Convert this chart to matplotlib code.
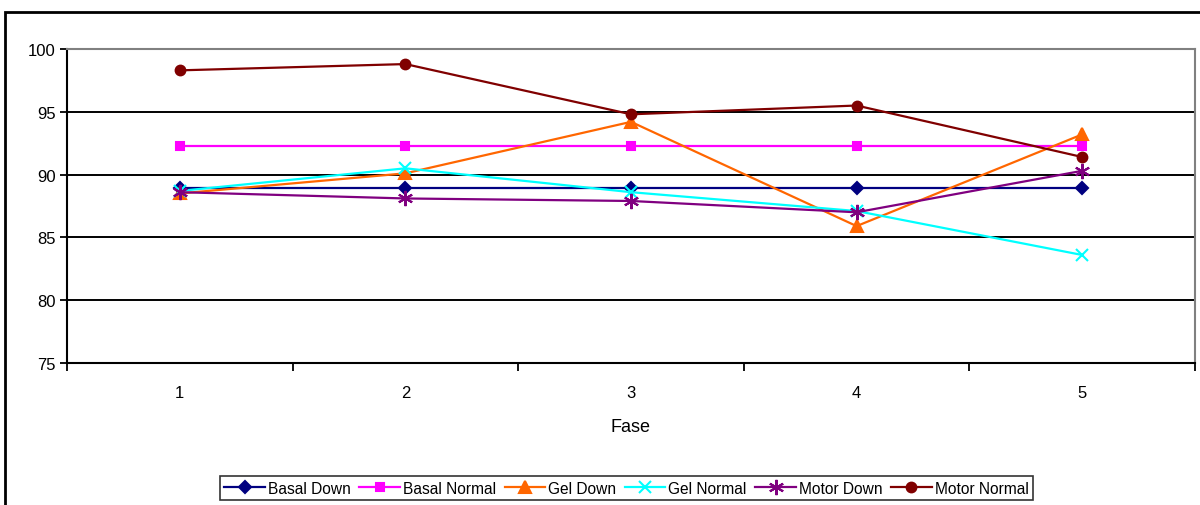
import matplotlib
matplotlib.use('Agg')
import matplotlib.pyplot as plt
from matplotlib.patches import Rectangle

plt.rcParams['font.family'] = ['Liberation Sans', 'DejaVu Sans']

fase = [1, 2, 3, 4, 5]
basal_down = [88.9, 88.9, 88.9, 88.9, 88.9]
basal_normal = [92.3, 92.3, 92.3, 92.3, 92.3]
gel_down = [88.5, 90.1, 94.2, 85.9, 93.2]
gel_normal = [88.7, 90.5, 88.6, 87.1, 83.6]
motor_down = [88.6, 88.1, 87.9, 87.0, 90.3]
motor_normal = [98.3, 98.8, 94.8, 95.5, 91.4]

series = [
    ('Basal Down', basal_down, '#000080', 'D', 6),
    ('Basal Normal', basal_normal, '#FF00FF', 's', 6),
    ('Gel Down', gel_down, '#FF6600', '^', 8),
    ('Gel Normal', gel_normal, '#00FFFF', 'x', 8),
    ('Motor Down', motor_down, '#800080', (6, 2, 0), 11),
    ('Motor Normal', motor_normal, '#800000', 'o', 7),
]

fig = plt.figure(figsize=(12, 5.06), dpi=100)
ax = fig.add_axes([67/1200, 1 - 364/506, (1195-67)/1200, (364-50)/506])

for name, vals, col, mk, ms in series:
    ax.plot(fase, vals, color=col, marker=mk, markersize=ms, lw=1.6,
            markeredgewidth=1.5, label=name, zorder=3)

ax.set_xlim(0.5, 5.5)
ax.set_ylim(75, 100)
ax.set_yticks([75, 80, 85, 90, 95, 100])
ax.yaxis.grid(True, color='black', lw=1.4)
ax.set_axisbelow(True)

ax.set_xticks([0.5, 1.5, 2.5, 3.5, 4.5, 5.5])
ax.set_xticklabels([])
ax.set_xticks(fase, minor=True)
ax.set_xticklabels([str(f) for f in fase], minor=True)
ax.tick_params(axis='x', which='major', length=6, width=1.3, direction='out')
ax.tick_params(axis='x', which='minor', length=0, pad=16, labelsize=12)
ax.tick_params(axis='y', length=5, width=1.3, pad=3, labelsize=12)

for s in ['left', 'bottom']:
    ax.spines[s].set_linewidth(1.5)
    ax.spines[s].set_color('black')
for s in ['top', 'right']:
    ax.spines[s].set_linewidth(1.5)
    ax.spines[s].set_color('#808080')

ax.set_xlabel('Fase', fontsize=13, labelpad=13)

leg = ax.legend(loc='upper center', bbox_to_anchor=(0.496, -0.36), ncol=6,
                fontsize=11.2, frameon=True, fancybox=False, handlelength=2.6,
                handletextpad=0.2, columnspacing=0.55, borderpad=0.3,
                borderaxespad=0)
leg.get_frame().set_edgecolor('black')
leg.get_frame().set_linewidth(1.2)

# outer chart frame
fig.patches.append(Rectangle((5/1200, -0.1), 1.2, 1 - 13/506 + 0.1,
                             transform=fig.transFigure, fill=False,
                             edgecolor='black', lw=2))

fig.savefig('out.png', dpi=100)
